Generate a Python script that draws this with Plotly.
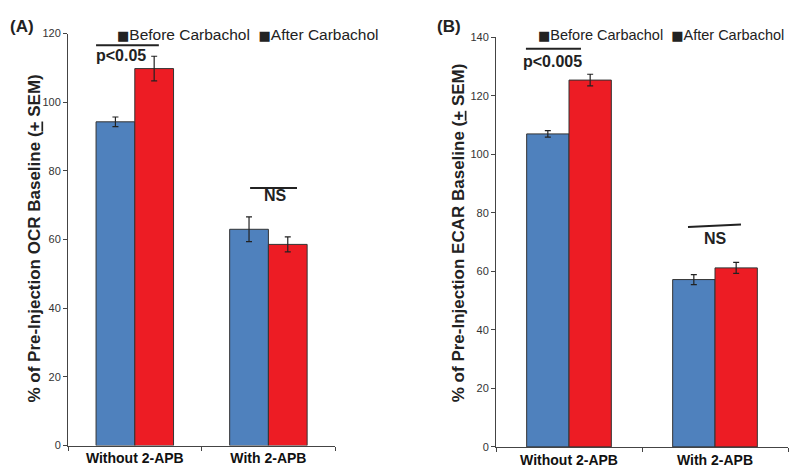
import plotly.graph_objects as go

# Data
groups = ['Without 2-APB', 'With 2-APB']
series = ['Before Carbachol', 'After Carbachol']

ocr_before = [94.3, 63.0]
ocr_before_sem = [1.4, 3.6]
ocr_after = [109.8, 58.6]
ocr_after_sem = [3.6, 2.2]

ecar_before = [107.0, 57.2]
ecar_before_sem = [1.1, 1.7]
ecar_after = [125.4, 61.2]
ecar_after_sem = [2.0, 1.9]

ocr_range = [0, 120]
ecar_range = [0, 140]

FONT = 'Liberation Sans, Arial, sans-serif'
BLUE = '#4F81BD'
RED = '#ED1C24'
colors = [BLUE, RED]

fig = go.Figure()


def add_bars(values, sems, xa, ya):
    for name, vals, err, col in zip(series, values, sems, colors):
        fig.add_trace(go.Bar(
            x=groups, y=vals, name=name, xaxis=xa, yaxis=ya,
            marker=dict(color=col, line=dict(color='#333333', width=1)),
            error_y=dict(type='data', array=err, color='#222222',
                         thickness=1.2, width=3),
            showlegend=False))


add_bars([ocr_before, ocr_after], [ocr_before_sem, ocr_after_sem], 'x', 'y')
add_bars([ecar_before, ecar_after], [ecar_before_sem, ecar_after_sem], 'x2', 'y2')

axis_common = dict(showline=True, linecolor='#444444', linewidth=1,
                   ticks='outside', ticklen=4, tickcolor='#444444',
                   showgrid=False, zeroline=False)

fig.update_layout(
    width=800, height=467,
    margin=dict(l=0, r=0, t=0, b=0),
    paper_bgcolor='white', plot_bgcolor='white',
    barmode='group', bargap=0.42, bargroupgap=0,
    font=dict(family=FONT, color='#222222'),
    xaxis=dict(domain=[0.075, 0.409], anchor='y', tickson='boundaries',
               tickfont=dict(size=14, color='#111111'),
               tickprefix='<b>', ticksuffix='</b>', **axis_common),
    yaxis=dict(domain=[0.0514, 0.957], anchor='x', range=ocr_range,
               dtick=20, tickfont=dict(size=11, color='#333333'),
               **axis_common),
    xaxis2=dict(domain=[0.61, 0.975], anchor='y2', tickson='boundaries',
                tickfont=dict(size=14, color='#111111'),
                tickprefix='<b>', ticksuffix='</b>', **axis_common),
    yaxis2=dict(domain=[0.0486, 0.9486], anchor='x2', range=ecar_range,
                dtick=20, tickfont=dict(size=11, color='#333333'),
                **axis_common),
)

annots = []
# panel letters
for txt, px in [('<b>(A)</b>', 0), ('<b>(B)</b>', 427)]:
    annots.append(dict(text=txt, x=px / 800, y=1 - 13 / 467, xref='paper', yref='paper',
                       xanchor='left', yanchor='middle', showarrow=False,
                       font=dict(size=17)))

# y titles
annots.append(dict(text='<b>% of Pre-Injection OCR Baseline (<u>+</u> SEM)</b>',
                   x=15 / 800, y=1 - 231 / 467, xref='paper', yref='paper',
                   textangle=-90, showarrow=False, font=dict(size=17)))
annots.append(dict(text='<b>% of Pre-Injection ECAR Baseline (<u>+</u> SEM)</b>',
                   x=450 / 800, y=1 - 225 / 467, xref='paper', yref='paper',
                   textangle=-90, showarrow=False, font=dict(size=17)))

# legends (drawn as text, black squares like the original)
sq = '<span style="font-family:DejaVu Sans;font-size:13px">■</span>'
legend_text = sq + 'Before Carbachol  ' + sq + 'After Carbachol'
for x0, y0, fs in [(107, 21, 15.5), (528, 22, 14.5)]:
    annots.append(dict(text=legend_text,
                       x=x0 / 800, y=1 - y0 / 467, xref='paper', yref='paper',
                       xanchor='left', yanchor='middle', showarrow=False,
                       font=dict(size=fs, color='#222222')))

# significance labels
annots.append(dict(text='<b>p<0.05</b>', x=-0.10, y=113.6, xref='x', yref='y',
                   showarrow=False, font=dict(size=16)))
annots.append(dict(text='<b>NS</b>', x=1.054, y=72.7, xref='x', yref='y',
                   showarrow=False, font=dict(size=16)))
annots.append(dict(text='<b>p<0.005</b>', x=-0.11, y=131.6, xref='x2', yref='y2',
                   showarrow=False, font=dict(size=16)))
annots.append(dict(text='<b>NS</b>', x=1.0, y=71.4, xref='x2', yref='y2',
                   showarrow=False, font=dict(size=16)))
fig.update_layout(annotations=annots)

line = dict(color='#222222', width=2)
fig.add_shape(type='line', x0=-0.29, x1=0.18, y0=116.6, y1=116.6, xref='x', yref='y', line=line)
fig.add_shape(type='line', x0=0.863, x1=1.214, y0=75.0, y1=75.0, xref='x', yref='y', line=line)
fig.add_shape(type='line', x0=-0.295, x1=0.082, y0=136.1, y1=136.1, xref='x2', yref='y2', line=line)
fig.add_shape(type='line', x0=0.815, x1=1.178, y0=75.2, y1=76.0, xref='x2', yref='y2', line=line)

fig.write_html('out.html')
